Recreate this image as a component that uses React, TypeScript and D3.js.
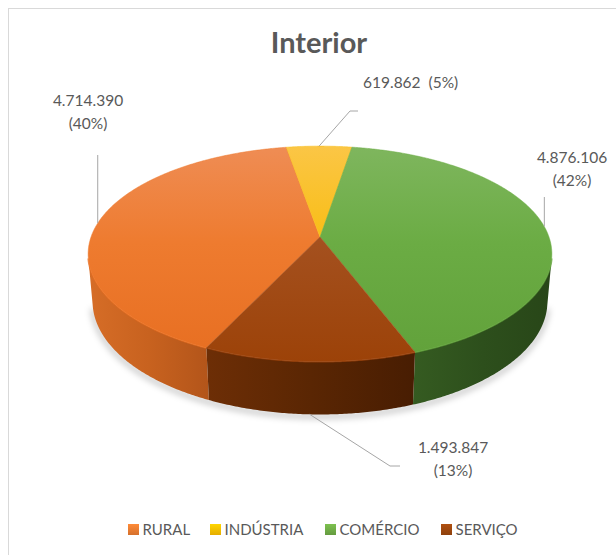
import React from "react";
import * as d3 from "d3";

// ---- data ----
const categories = ["RURAL", "INDÚSTRIA", "COMÉRCIO", "SERVIÇO"];
const values = [4714390, 619862, 4876106, 1493847];
const title = "Interior";

// ---- layout / style ----
const W = 616;
const H = 555;
const cx = 320;
const cy = 237;
const R = 229;
const CAM = 1300;
const DEPTH = 54;
const sinP = 0.459;
const cosP = Math.sqrt(1 - sinP * sinP);
const startDeg = 205.2;

const topStops = [
  ["#EF8D55", "#EE7B2F", "#E76E21"],
  ["#FBC646", "#F8BD14", "#F3B700"],
  ["#7FB65E", "#6BAC44", "#61A13A"],
  ["#B06A4E", "#A4501E", "#9C4208"],
];
const sideStops = [
  ["#D66D27", "#C8621F", "#B3551A"],
  ["#C89400", "#B88700", "#A87C00"],
  ["#355B21", "#2D4F1C", "#284618"],
  ["#6D2E06", "#5A2603", "#481D02"],
];
const legendMarker = ["#ED7D31", "#FFC000", "#70AD47", "#9E480E"];

const textColor = "#595959";
const fontFamily = "Lato, 'Open Sans', sans-serif";

const fmt = d3.formatLocale({
  decimal: ",",
  thousands: ".",
  grouping: [3],
  currency: ["R$", ""],
}).format(",d");

function proj(theta: number, Y: number): [number, number] {
  const X = R * Math.sin(theta);
  const Z = R * Math.cos(theta);
  const yc = Z * sinP + Y * cosP;
  const zc = Z * cosP - Y * sinP;
  const s = CAM / (CAM + zc);
  return [cx + X * s, cy - yc * s];
}

function arcPts(a0: number, a1: number, Y: number): [number, number][] {
  const step = (0.5 * Math.PI) / 180;
  const n = Math.max(2, Math.ceil(Math.abs(a1 - a0) / step));
  const pts: [number, number][] = [];
  for (let i = 0; i <= n; i++) pts.push(proj(a0 + ((a1 - a0) * i) / n, Y));
  return pts;
}

const line = d3.line<[number, number]>();

export default function App() {
  const total = d3.sum(values);
  const start = (startDeg * Math.PI) / 180;
  const arcs = d3
    .pie<number>()
    .sort(null)
    .startAngle(start)
    .endAngle(start + 2 * Math.PI)(values);

  // silhouette of the cylinder wall
  const vs = Math.acos(-R / (CAM * cosP));
  const ve = 2 * Math.PI - vs;

  const walls: { i: number; d: string; top: string }[] = [];
  arcs.forEach((a, i) => {
    for (let k = -1; k <= 2; k++) {
      const lo = Math.max(a.startAngle, vs + k * 2 * Math.PI);
      const hi = Math.min(a.endAngle, ve + k * 2 * Math.PI);
      if (hi > lo) {
        const topP = arcPts(lo, hi, 0);
        const botP = arcPts(hi, lo, -DEPTH);
        walls.push({
          i,
          d: line([...topP, ...botP])! + "Z",
          top: line(topP)!,
        });
      }
    }
  });

  const tops = arcs.map((a, i) => ({
    i,
    d: line([[cx, cy], ...arcPts(a.startAngle, a.endAngle, 0)])! + "Z",
  }));

  const shadow = line(arcPts(vs, ve, -DEPTH))! ;

  // label layout
  const labelLayout = [
    { x: 88, y: 106, anchor: "middle", one: false, bottom: false, pts: (p: [number, number]) => [[p[0], 155]] },
    { x: 363, y: 88, anchor: "start", one: true, bottom: false, pts: () => [[350, 111], [358, 111]] },
    { x: 572, y: 163, anchor: "middle", one: false, bottom: false, pts: (p: [number, number]) => [[p[0], 197]] },
    { x: 453, y: 453, anchor: "middle", one: false, bottom: true, pts: () => [[390, 466], [400, 466]] },
  ];

  const legendX = [128, 210, 325, 441];

  return (
    <svg
      width={W}
      height={H}
      style={{ position: "absolute", left: 0, top: 0, background: "#fff" }}
    >
      <defs>
        {topStops.map((s, i) => (
          <linearGradient key={"t" + i} id={"top" + i} gradientUnits="userSpaceOnUse" x1={0} y1={145} x2={0} y2={363}>
            <stop offset="0" stopColor={s[0]} />
            <stop offset="0.45" stopColor={s[1]} />
            <stop offset="1" stopColor={s[2]} />
          </linearGradient>
        ))}
        {sideStops.map((s, i) => (
          <linearGradient key={"s" + i} id={"side" + i} x1={0} y1={0} x2={1} y2={0}>
            <stop offset="0" stopColor={s[0]} />
            <stop offset="0.5" stopColor={s[1]} />
            <stop offset="1" stopColor={s[2]} />
          </linearGradient>
        ))}
        {legendMarker.map((c, i) => (
          <linearGradient key={"l" + i} id={"leg" + i} x1={0} y1={0} x2={0} y2={1}>
            <stop offset="0" stopColor={d3.color(c)!.brighter(0.3).formatHex()} />
            <stop offset="1" stopColor={d3.color(c)!.darker(0.3).formatHex()} />
          </linearGradient>
        ))}
        <filter id="blur" x="-20%" y="-20%" width="140%" height="140%">
          <feGaussianBlur stdDeviation="3" />
        </filter>
      </defs>

      <rect x={8.5} y={8.5} width={700} height={700} fill="#fff" stroke="#D9D9D9" strokeWidth={1} />

      <text x={319} y={53} textAnchor="middle" fontFamily={fontFamily} fontWeight="bold" fontSize={29} fill={textColor}>
        {title}
      </text>

      {/* shadow */}
      <path d={shadow} fill="none" stroke="rgba(0,0,0,0.22)" strokeWidth={5} filter="url(#blur)" transform="translate(0,2)" />

      {walls.map((w, j) => (
        <g key={"w" + j}>
          <path d={w.d} fill={`url(#side${w.i})`} />
          <path d={w.top} fill="none" stroke={topStops[w.i][2]} strokeWidth={2} opacity={0.7} />
        </g>
      ))}
      {tops.map((t) => (
        <path key={"tp" + t.i} d={t.d} fill={`url(#top${t.i})`} stroke={topStops[t.i][1]} strokeWidth={0.5} />
      ))}

      {/* labels */}
      {arcs.map((a, i) => {
        const L = labelLayout[i];
        const mid = (a.startAngle + a.endAngle) / 2;
        const p = proj(mid, L.bottom ? -DEPTH : 0);
        const pts = [p, ...L.pts(p)] as [number, number][];
        const v = fmt(values[i]);
        const pct = "(" + Math.round((values[i] / total) * 100) + "%)";
        return (
          <g key={"lab" + i}>
            <path d={line(pts)!} fill="none" stroke="#A6A6A6" strokeWidth={1} />
            {L.one ? (
              <text x={L.x} y={L.y} textAnchor={L.anchor as any} fontFamily={fontFamily} fontSize={15.5} fill={textColor} style={{ whiteSpace: "pre" }}>
                {v + "  " + pct}
              </text>
            ) : (
              <text textAnchor={L.anchor as any} fontFamily={fontFamily} fontSize={15.5} fill={textColor}>
                <tspan x={L.x} y={L.y}>{v}</tspan>
                <tspan x={L.x} y={L.y + 22.5}>{pct}</tspan>
              </text>
            )}
          </g>
        );
      })}

      {/* legend */}
      {categories.map((c, i) => (
        <g key={"lg" + i}>
          <rect x={legendX[i]} y={524} width={11} height={11} fill={`url(#leg${i})`} />
          <text x={legendX[i] + 14.5} y={535} fontFamily={fontFamily} fontSize={15} fill={textColor}>
            {c}
          </text>
        </g>
      ))}
    </svg>
  );
}
